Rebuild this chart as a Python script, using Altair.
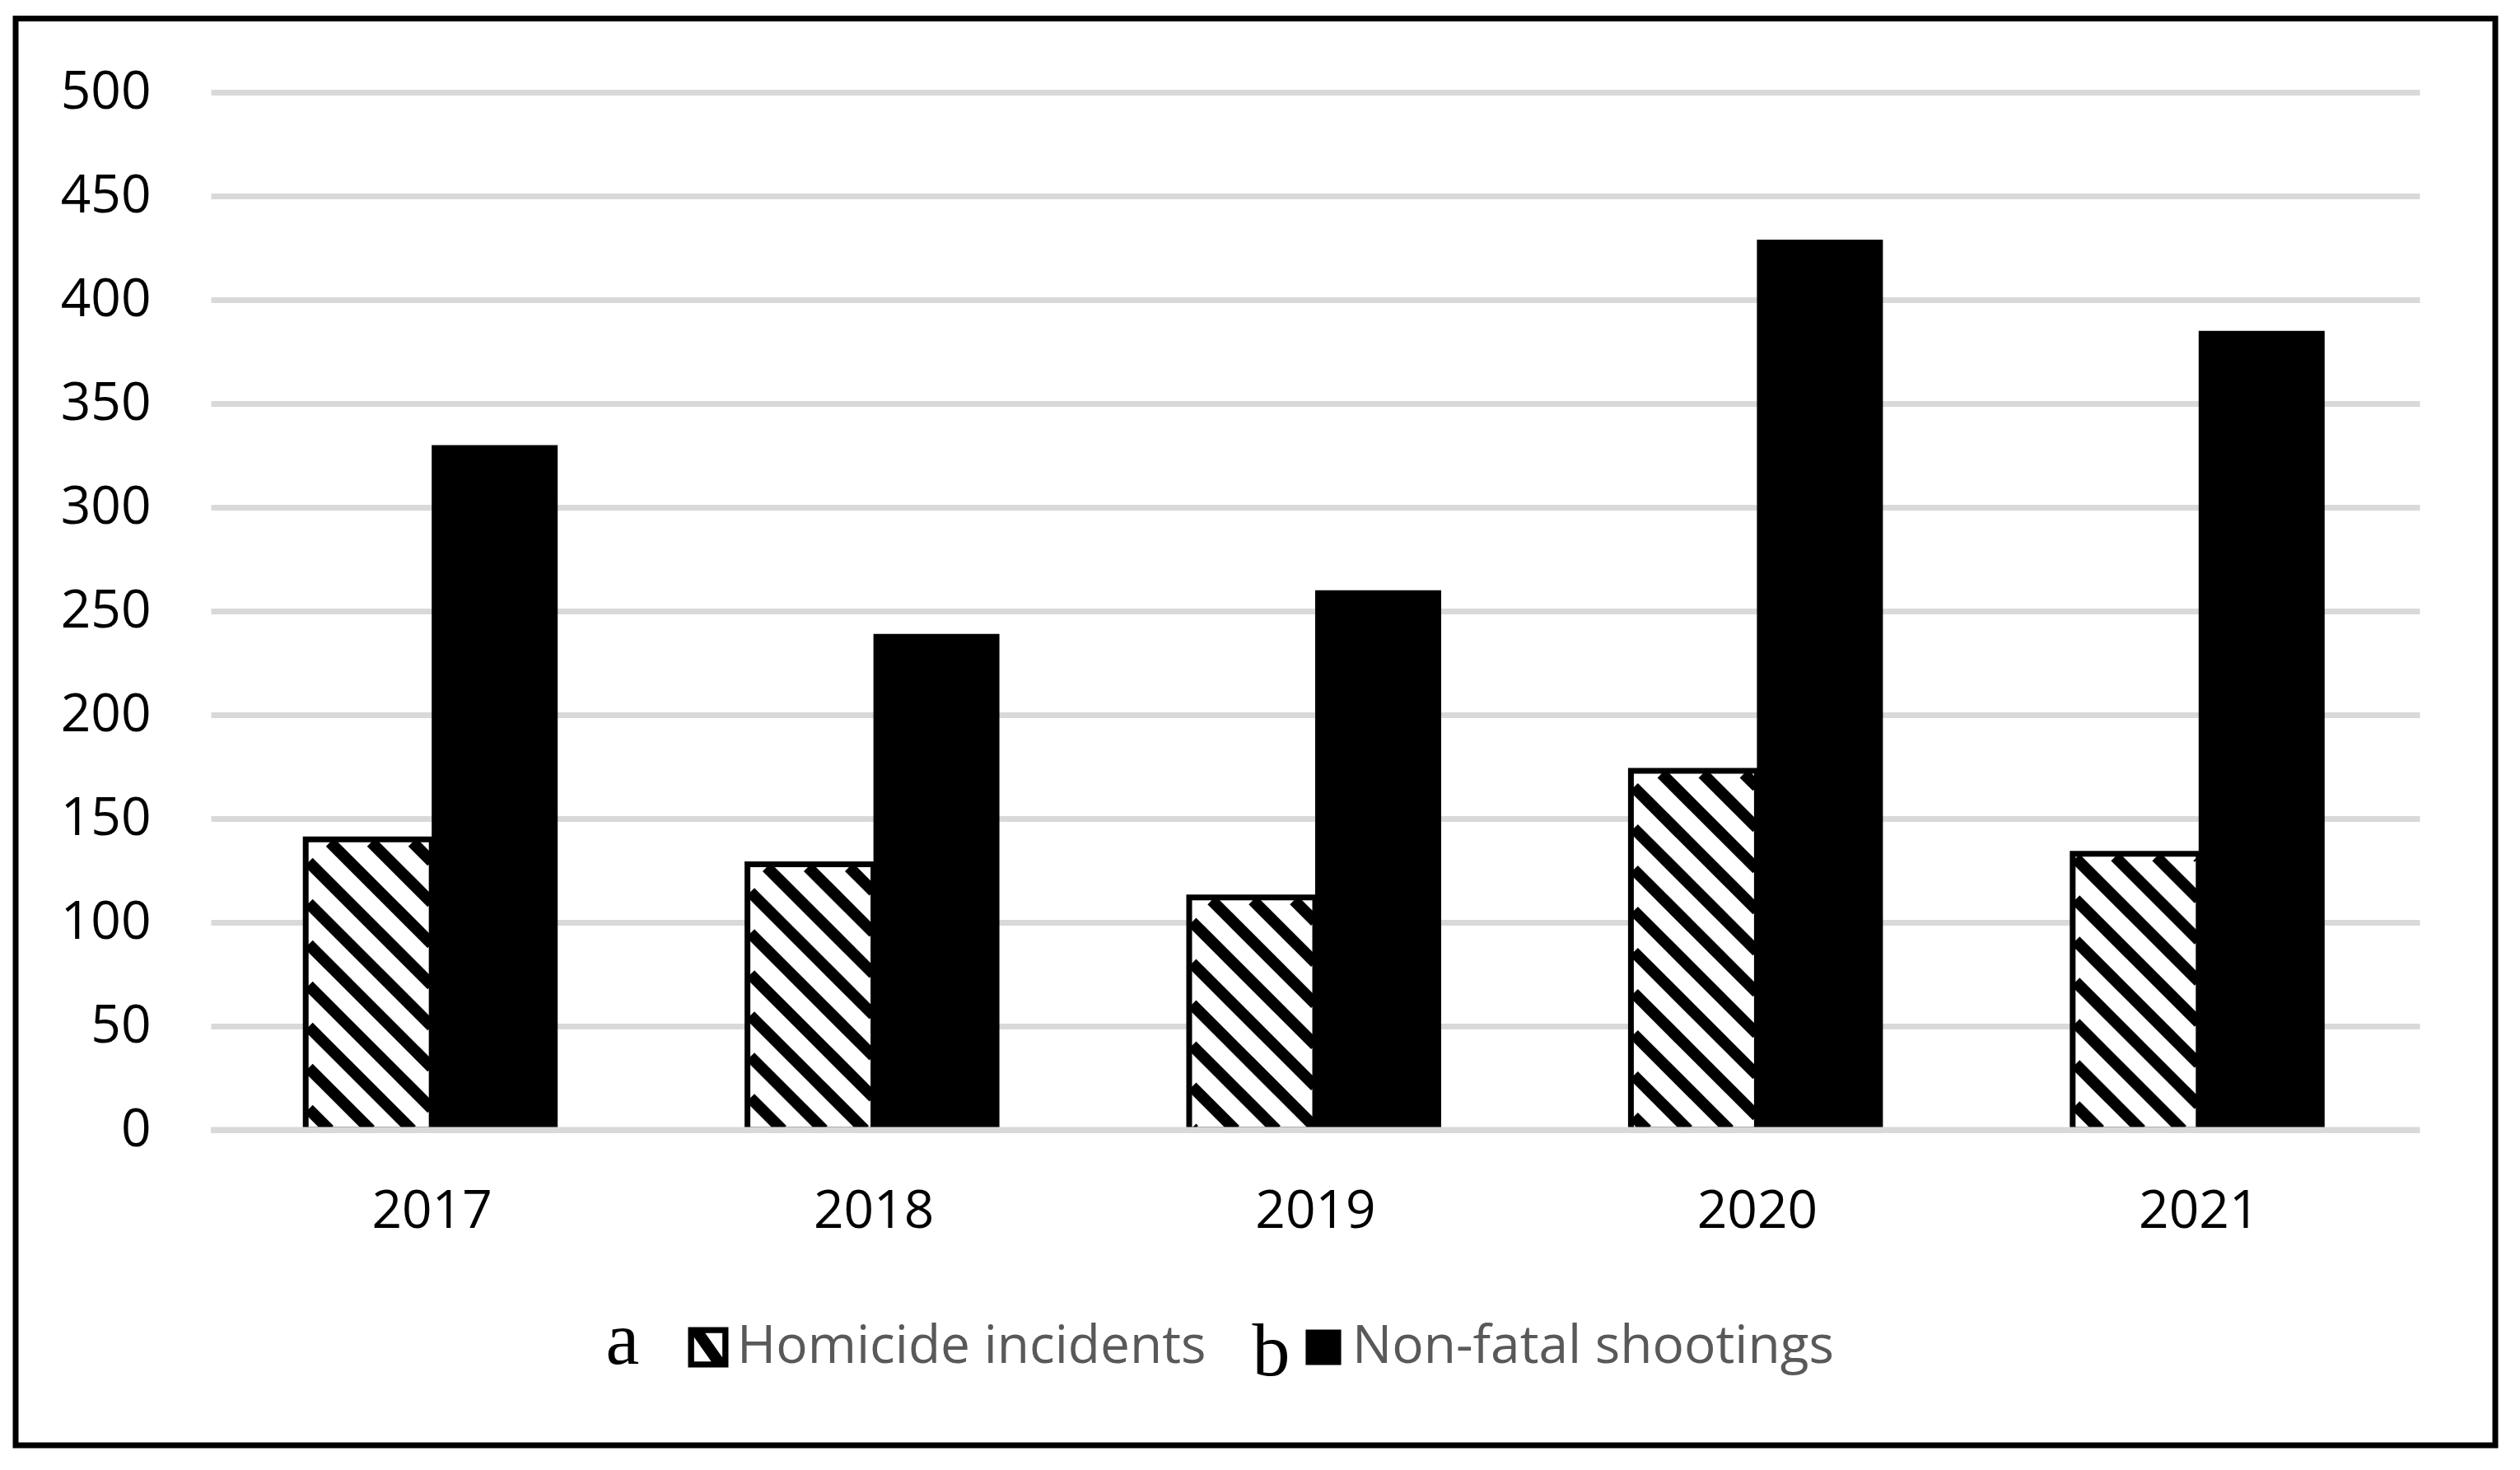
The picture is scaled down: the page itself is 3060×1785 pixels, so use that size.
import math
import altair as alt
import pandas as pd

# ---- data ----
years = ["2017", "2018", "2019", "2020", "2021"]
homicide = [140, 128, 112, 173, 133]
nonfatal = [330, 239, 260, 429, 385]
series_names = ["Homicide incidents", "Non-fatal shootings"]
y_ticks = list(range(0, 501, 50))

# ---- layout / style constants ----
W_PLOT, H_PLOT, Y_MAX = 2682, 1260, 500
SX = W_PLOT / len(years)          # px per category unit
SY = H_PLOT / Y_MAX               # px per value unit
BAR_W = 0.2852                    # bar width in category units
STROKE = 7
HATCH_GAP = 50
HATCH_PHASE = 44
HATCH_W = 14
FONT = "Open Sans"
GRID = "#d9d9d9"

idx = list(range(len(years)))

xs = alt.Scale(domain=[-0.5, len(years) - 0.5], nice=False, zero=False)
ys = alt.Scale(domain=[0, Y_MAX], nice=False)
x_axis = alt.Axis(values=idx, labelExpr=f"{years}[datum.value]", grid=False,
                  domain=False, ticks=False, labelPadding=67, title=None,
                  labelFont=FONT, labelFontSize=64, labelColor="black")
y_axis = alt.Axis(values=y_ticks, grid=True, gridColor=GRID, gridWidth=7,
                  domain=False, ticks=False, labelPadding=73, title=None,
                  labelFont=FONT, labelFontSize=64, labelColor="black")

df_h = pd.DataFrame({"year": years, "i": idx, "value": homicide})
df_h["u0"] = df_h["i"] - BAR_W
df_h["u1"] = df_h["i"]
df_n = pd.DataFrame({"year": years, "i": idx, "value": nonfatal})
df_n["u0"] = df_n["i"]
df_n["u1"] = df_n["i"] + BAR_W

# hatch segments (45 degree in pixel space), clipped to each homicide bar
segs = []
for i, v in zip(idx, homicide):
    X0 = (i - BAR_W + 0.5) * SX + STROKE / 2
    X1 = (i + 0.5) * SX
    Ytop = v * SY - STROKE / 2
    kmin, kmax = X0, X1 + Ytop
    n = math.ceil((kmin - HATCH_PHASE) / HATCH_GAP)
    k = HATCH_PHASE + n * HATCH_GAP
    while k < kmax:
        lo = max(X0, k - Ytop)
        hi = min(X1, k)
        if hi - lo > 0.5:
            segs.append({"u": lo / SX - 0.5, "v": (k - lo) / SY,
                         "u2": hi / SX - 0.5, "v2": (k - hi) / SY})
        k += HATCH_GAP
df_hatch = pd.DataFrame(segs)

one = pd.DataFrame({"k": [0]})

homicide_bars = alt.Chart(df_h).mark_rect(
    fill="white", stroke="black", strokeWidth=STROKE, clip=True
).encode(
    x=alt.X("u0:Q", scale=xs, axis=x_axis), x2="u1:Q",
    y=alt.Y("value:Q", scale=ys, axis=y_axis), y2=alt.datum(0),
)

hatch = alt.Chart(df_hatch).mark_rule(
    color="black", strokeWidth=HATCH_W, clip=True
).encode(
    x=alt.X("u:Q", scale=xs, axis=x_axis), x2="u2:Q",
    y=alt.Y("v:Q", scale=ys, axis=y_axis), y2="v2:Q",
)

nf_bars = alt.Chart(df_n).mark_rect(fill="black", clip=True).encode(
    x=alt.X("u0:Q", scale=xs, axis=x_axis), x2="u1:Q",
    y=alt.Y("value:Q", scale=ys, axis=y_axis), y2=alt.datum(0),
)

baseline = alt.Chart(one).mark_rule(color=GRID, strokeWidth=7).encode(
    y=alt.Y(datum=0, scale=ys, axis=y_axis)
)

border = alt.Chart(one).mark_rect(
    fill="transparent", stroke="black", strokeWidth=7
).encode(
    x=alt.value(-237), x2=alt.value(2774), y=alt.value(-89.5), y2=alt.value(1643)
)

hatch_path = ("M-1,-1H1V1H-1Z M-0.7,-0.7V0.7H0.7V-0.7Z "
              "M-0.7,-0.7L-0.15,-0.7L0.7,0.5L0.7,0.7L0.15,0.7L-0.7,-0.5Z")
square_path = "M-0.88,-0.88H0.88V0.88H-0.88Z"

legend_layer = alt.Chart(pd.DataFrame({"series": series_names})).mark_point(
    filled=True, clip=True
).encode(
    x=alt.value(-400), y=alt.value(-400),
    color=alt.value("black"),
    shape=alt.Shape(
        "series:N",
        scale=alt.Scale(domain=series_names, range=[hatch_path, square_path]),
        legend=alt.Legend(
            title=None, orient="none", legendX=572, legendY=1492,
            direction="horizontal", padding=0,
            symbolSize=2401, symbolFillColor="black", symbolStrokeWidth=0,
            symbolOpacity=1, labelOffset=3, columnPadding=110,
            labelFont=FONT, labelFontSize=64, labelColor="#595959",
            labelLimit=0,
        ),
    ),
)

letter_a = alt.Chart(one).mark_text(
    text="a", font="Liberation Serif", fontSize=92, color="black",
    align="center", baseline="alphabetic"
).encode(x=alt.value(500), y=alt.value(1544))

letter_b = alt.Chart(one).mark_text(
    text="b", font="Liberation Serif", fontSize=92, color="black",
    align="center", baseline="alphabetic"
).encode(x=alt.value(1287.5), y=alt.value(1558))

chart = alt.layer(
    homicide_bars, hatch, nf_bars, baseline, border, legend_layer, letter_a, letter_b
).properties(
    width=W_PLOT, height=H_PLOT,
    autosize=alt.AutoSizeParams(type="none"),
    padding={"left": 248, "top": 104, "right": 104, "bottom": 395},
    background="white",
).configure_view(stroke=None)

chart.save("out.html", embed_options={"renderer": "svg", "actions": False})
